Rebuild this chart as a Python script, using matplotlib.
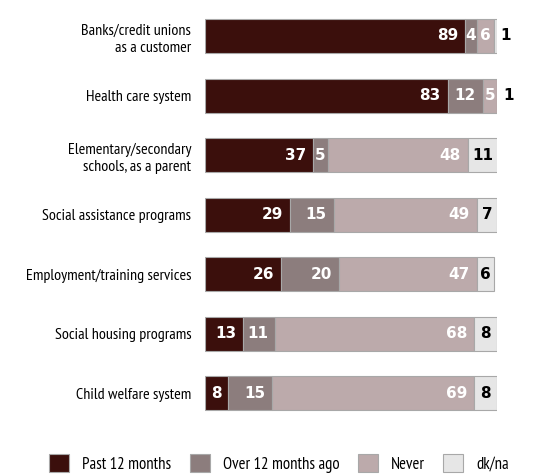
import numpy as np
import matplotlib.pyplot as plt
from matplotlib.patches import Patch

plt.rcParams['font.family'] = ['PT Sans Narrow', 'DejaVu Sans']

categories = ['Banks/credit unions\nas a customer', 'Health care system',
              'Elementary/secondary\nschools, as a parent', 'Social assistance programs',
              'Employment/training services', 'Social housing programs',
              'Child welfare system']
past12 = [89, 83, 37, 29, 26, 13, 8]
over12 = [4, 12, 5, 15, 20, 11, 15]
never = [6, 5, 48, 49, 47, 68, 69]
dkna = [1, 1, 11, 7, 6, 8, 8]

series = [past12, over12, never, dkna]
names = ['Past 12 months', 'Over 12 months ago', 'Never', 'dk/na']
colors = ['#3b0f0c', '#8c7d7d', '#bcaaab', '#e6e6e6']
txtcol = ['white', 'white', 'white', 'black']
numfont = dict(fontweight='bold', fontsize=11, family='DejaVu Sans')

fig = plt.figure(figsize=(5.44, 4.75), dpi=100)
ax = fig.add_axes([0.377, 0.109, 0.537, 0.878])

y = np.arange(len(categories))
left = np.zeros(len(categories))
for s, vals in enumerate(series):
    vals = np.array(vals)
    ax.barh(y, vals, left=left, height=0.57, color=colors[s],
            edgecolor='#a8a8a8', linewidth=0.8)
    for i, v in enumerate(vals):
        if s == 3 and v <= 1:
            # tiny dk/na share: label sits outside the bar
            ax.annotate(str(v), (left[i] + v, y[i]), xytext=(2, 0),
                        textcoords='offset points', ha='left', va='center',
                        color='black', annotation_clip=False, **numfont)
        elif v < 10:
            ax.text(left[i] + v / 2, y[i], str(v), ha='center', va='center',
                    color=txtcol[s], **numfont)
        else:
            ax.annotate(str(v), (left[i] + v, y[i]), xytext=(-5, 0),
                        textcoords='offset points', ha='right', va='center',
                        color=txtcol[s], annotation_clip=False, **numfont)
    left += vals

ax.set_xlim(0, 100)
ax.set_ylim(6.5, -0.5)
ax.set_yticks(y)
ax.set_yticklabels(categories, fontsize=11.5, ha='right', linespacing=1.3)
ax.tick_params(axis='y', length=0, pad=10)
ax.set_xticks([])
for sp in ax.spines.values():
    sp.set_visible(False)

handles = [Patch(facecolor=colors[i], edgecolor='#a8a8a8', linewidth=0.8)
           for i in range(4)]
fig.legend(handles, names, loc='center', bbox_to_anchor=(0.513, 0.024), ncol=4,
           frameon=False, fontsize=12, handlelength=1.2, handleheight=1.3,
           columnspacing=1.1, handletextpad=0.8)

fig.savefig('out.png', dpi=100)
